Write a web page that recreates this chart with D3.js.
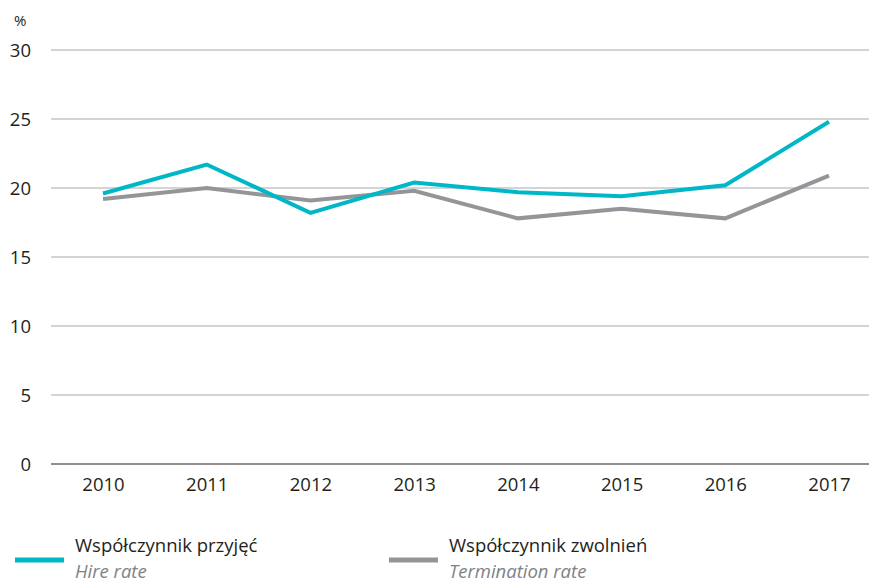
<!DOCTYPE html>
<html>
<head>
<meta charset="utf-8">
<script src="https://cdn.jsdelivr.net/npm/d3@7"></script>
<style>
    body { margin: 0; background: #fff; }
    svg text { font-family: 'Open Sans', sans-serif; fill: #231f20; }
</style>
</head>
<body>
<svg id="chartSvg" width="869" height="583"></svg>
<script>
const years = ['2010', '2011', '2012', '2013', '2014', '2015', '2016', '2017']
const hireRate = [19.6, 21.7, 18.2, 20.4, 19.7, 19.4, 20.2, 24.8]
const terminationRate = [19.2, 20.0, 19.1, 19.8, 17.8, 18.5, 17.8, 20.9]
const yTicks = [0, 5, 10, 15, 20, 25, 30]

const series = [
    {pl: 'Współczynnik przyjęć', en: 'Hire rate', values: hireRate, colour: '#00b7c7'},
    {pl: 'Współczynnik zwolnień', en: 'Termination rate', values: terminationRate, colour: '#939598'}
]

window.onload = function(){
    chart.draw()
}

class chart {

    static draw(svg = d3.select('#chartSvg')){
        const x = d3.scalePoint().domain(years).range([103, 829])
        const y = d3.scaleLinear().domain([0, 30]).range([464, 50])

        // grid lines
        svg.append('g')
            .selectAll('line')
            .data(yTicks)
            .join('line')
            .attr('x1', 51)
            .attr('x2', 869)
            .attr('y1', d => y(d))
            .attr('y2', d => y(d))
            .attr('stroke', d => d === 0 ? '#231f20' : '#a7a9ac')
            .attr('stroke-width', 1.2)

        // y labels
        svg.append('g')
            .selectAll('text')
            .data(yTicks)
            .join('text')
            .text(d => d)
            .attr('x', 31)
            .attr('y', d => y(d) + 6.5)
            .attr('text-anchor', 'end')
            .style('font-size', '18.5px')

        svg.append('text')
            .text('%')
            .attr('x', 14)
            .attr('y', 26)
            .style('font-size', '15px')

        // x labels
        const xAxis = d3.axisBottom(x).tickSize(0).tickPadding(0)
        const gx = svg.append('g')
            .attr('transform', 'translate(0,478)')
            .call(xAxis)
        gx.select('.domain').remove()
        gx.selectAll('text')
            .attr('dy', '0.71em')
            .style('font-size', '18.5px')
            .style('font-family', "'Open Sans', sans-serif")
            .attr('fill', '#231f20')

        // lines
        const line = d3.line()
            .x((d, i) => x(years[i]))
            .y(d => y(d))

        svg.append('g')
            .selectAll('path')
            .data(series.slice().reverse())
            .join('path')
            .attr('d', d => line(d.values))
            .attr('fill', 'none')
            .attr('stroke', d => d.colour)
            .attr('stroke-width', 4)
            .attr('stroke-linejoin', 'miter')

        chart.legend(svg)
    }

    static legend(svg){
        const items = svg.append('g')
            .selectAll('g')
            .data(series)
            .join('g')
            .attr('transform', (d, i) => 'translate(' + [15, 389][i] + ',0)')

        items.append('line')
            .attr('x1', 0)
            .attr('x2', 49)
            .attr('y1', 560)
            .attr('y2', 560)
            .attr('stroke', d => d.colour)
            .attr('stroke-width', 5)

        items.append('text')
            .text(d => d.pl)
            .attr('x', 60)
            .attr('y', 552)
            .style('font-size', '18.5px')

        items.append('text')
            .text(d => d.en)
            .attr('x', 60)
            .attr('y', 578)
            .style('font-size', '18.5px')
            .style('font-style', 'italic')
            .style('fill', '#808285')
    }
}
</script>
</body>
</html>
